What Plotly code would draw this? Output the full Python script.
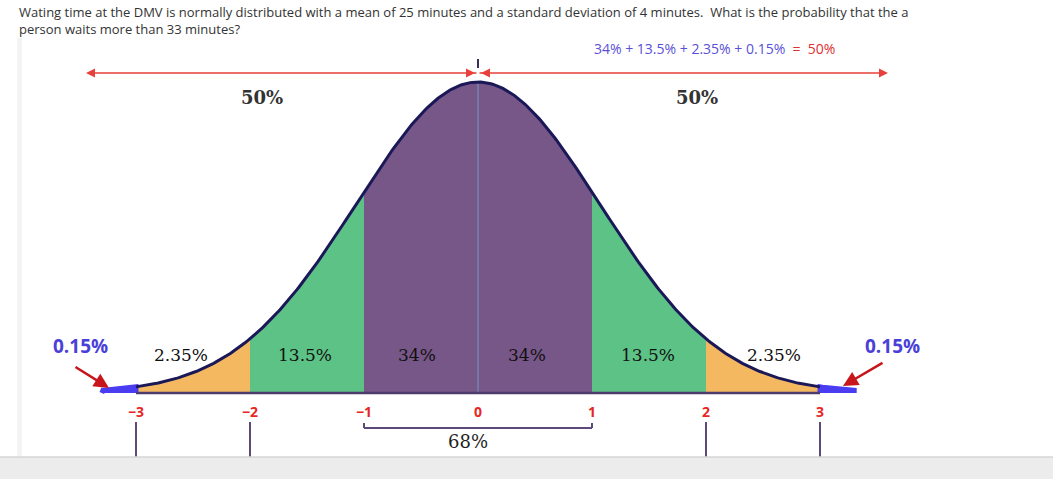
import numpy as np
import plotly.graph_objects as go

# ---------------- data ----------------
question_lines = [
    "Wating time at the DMV is normally distributed with a mean of 25 minutes and a standard deviation of 4 minutes.  What is the probability that the a",
    "person waits more than 33 minutes?",
]
mean_minutes = 25
sd_minutes = 4
sigma_ticks = [-3, -2, -1, 0, 1, 2, 3]
sigma_tick_labels = ["\u22123", "\u22122", "\u22121", "0", "1", "2", "3"]
region_bounds = [(-3, -2), (-2, -1), (-1, 0), (0, 1), (1, 2), (2, 3)]
region_labels = ["2.35%", "13.5%", "34%", "34%", "13.5%", "2.35%"]
region_colors = ["#f4b860", "#5cc286", "#775788", "#775788", "#5cc286", "#f4b860"]
tail_label = "0.15%"
half_label = "50%"
middle_label = "68%"
sum_terms = ["34%", "13.5%", "2.35%", "0.15%"]
sum_result = "50%"

# ---------------- pixel mapping helpers (layout only) ----------------
W, H = 1053, 479
X0, SIG_PX = 478.0, 114.0
Y0, PEAK_PX = 393.0, 311.0
CURVE_SPREAD = 1.07  # apparent spread of the drawn bell relative to tick spacing


def px2x(p):
    return (p - X0) / SIG_PX


def px2y(p):
    return (Y0 - p) / PEAK_PX


def bell(z):
    z = np.asarray(z, dtype=float)
    return np.exp(-0.5 * (z / CURVE_SPREAD) ** 2)


fig = go.Figure()

# colored regions
for (a, b), col in zip(region_bounds, region_colors):
    xs = np.linspace(a, b, 80)
    ys = bell(xs)
    px_ = np.concatenate([[a], xs, [b]])
    py_ = np.concatenate([[0], ys, [0]])
    fig.add_trace(go.Scatter(x=px_, y=py_, fill="toself", fillcolor=col,
                             mode="lines", line=dict(width=0, color=col),
                             hoverinfo="skip", showlegend=False))

# blue tails
for a, b in [(-3.3, -3.0), (3.0, 3.3)]:
    xs = np.linspace(a, b, 30)
    ys = bell(xs)
    px_ = np.concatenate([[a], xs, [b]])
    py_ = np.concatenate([[0], ys, [0]])
    fig.add_trace(go.Scatter(x=px_, y=py_, fill="toself", fillcolor="#4a3cf0",
                             mode="lines", line=dict(width=5, color="#4a3cf0"),
                             hoverinfo="skip", showlegend=False))

# centre line
fig.add_trace(go.Scatter(x=[0, 0], y=[0, 1], mode="lines",
                         line=dict(color="#6e9cc4", width=1),
                         hoverinfo="skip", showlegend=False))

# curve outline
xc = np.linspace(-3.0, 3.0, 400)
fig.add_trace(go.Scatter(x=xc, y=bell(xc), mode="lines",
                         line=dict(color="#1b1858", width=3),
                         hoverinfo="skip", showlegend=False))

# baseline
fig.add_trace(go.Scatter(x=[-3.0, 3.0], y=[0, 0], mode="lines",
                         line=dict(color="#4d3b6e", width=2.5),
                         hoverinfo="skip", showlegend=False))

shapes = []
# vertical guide lines below +-2, +-3
for t in sigma_ticks:
    if abs(t) >= 2:
        shapes.append(dict(type="line", x0=t, x1=t, y0=px2y(422), y1=px2y(457),
                           line=dict(color="#5b4a7a", width=2)))
# 68% bracket
yb = px2y(428)
shapes.append(dict(type="line", x0=-1, x1=1, y0=yb, y1=yb, line=dict(color="#5b4a7a", width=2)))
for t in (-1, 1):
    shapes.append(dict(type="line", x0=t, x1=t, y0=yb, y1=px2y(423), line=dict(color="#5b4a7a", width=2)))
# small tick above peak
shapes.append(dict(type="line", x0=0, x1=0, y0=px2y(59), y1=px2y(68), line=dict(color="#3b2f5a", width=2)))
# bottom gray bar
shapes.append(dict(type="rect", xref="paper", x0=-0.02, x1=1.02, y0=px2y(457), y1=px2y(485),
                   fillcolor="#ececec", line=dict(width=0), layer="above"))
shapes.append(dict(type="line", xref="paper", x0=-0.02, x1=1.02, y0=px2y(457), y1=px2y(457),
                   line=dict(color="#d6d6d6", width=1.5), layer="above"))
# faint left border strip
shapes.append(dict(type="rect", x0=px2x(17), x1=px2x(22), y0=px2y(457), y1=px2y(38),
                   fillcolor="#f4f4f4", line=dict(width=0), layer="below"))

annotations = []
# question text
annotations.append(dict(x=px2x(17), y=px2y(1), text="<br>".join(question_lines), showarrow=False,
                        xanchor="left", yanchor="top", align="left",
                        font=dict(family="Open Sans", size=13, color="#333333")))
# sum formula
sum_text = ("<span style='color:#5a50d8'>" + " + ".join(sum_terms) + "</span>"
            + "<span style='color:#e0302f'>  =  " + sum_result + "</span>")
annotations.append(dict(x=px2x(592), y=px2y(48), text=sum_text, showarrow=False,
                        xanchor="left", yanchor="middle",
                        font=dict(family="Open Sans", size=14)))
# red horizontal arrows
yr = px2y(73)
red = "#e8403a"
for head, tail in [(px2x(86), 0.0), (px2x(888), 0.0)]:
    annotations.append(dict(x=head, y=yr, ax=tail, ay=yr, axref="x", ayref="y",
                            xref="x", yref="y", text="", showarrow=True,
                            arrowhead=2, arrowsize=1.2, arrowwidth=1.5, arrowcolor=red))
for head, tail in [(px2x(475), px2x(466)), (px2x(481), px2x(490))]:
    annotations.append(dict(x=head, y=yr, ax=tail, ay=yr, axref="x", ayref="y",
                            xref="x", yref="y", text="", showarrow=True,
                            arrowhead=2, arrowsize=1.2, arrowwidth=1.5, arrowcolor=red))
# 50% labels
for xp in (262, 697):
    annotations.append(dict(x=px2x(xp), y=px2y(97), text="<b>" + half_label + "</b>", showarrow=False,
                            font=dict(family="DejaVu Serif", size=18, color="#333333")))
# region labels
label_px = [181, 305, 417, 527, 648, 774]
for xp, lab in zip(label_px, region_labels):
    annotations.append(dict(x=px2x(xp), y=px2y(355), text=lab, showarrow=False,
                            font=dict(family="DejaVu Serif", size=17, color="#111111")))
# 0.15% labels and arrows
blue = "#4a3fd8"
for xp in (80, 892):
    annotations.append(dict(x=px2x(xp), y=px2y(346), text="<b>" + tail_label + "</b>", showarrow=False,
                            font=dict(family="Open Sans", size=19, color=blue)))
for (hx, hy), (tx, ty) in [((109, 388), (74, 366)), ((843, 386), (884, 362))]:
    annotations.append(dict(x=px2x(hx), y=px2y(hy), ax=px2x(tx), ay=px2y(ty), axref="x", ayref="y",
                            xref="x", yref="y", text="", showarrow=True,
                            arrowhead=2, arrowsize=1.2, arrowwidth=2.5, arrowcolor="#c8151c"))
# sigma labels
for t, lab in zip(sigma_ticks, sigma_tick_labels):
    annotations.append(dict(x=t, y=px2y(411), text="<b>" + lab + "</b>", showarrow=False,
                            font=dict(family="Open Sans", size=14, color="#e8261f")))
# 68% label
annotations.append(dict(x=px2x(468), y=px2y(441), text=middle_label, showarrow=False,
                        font=dict(family="DejaVu Serif", size=18, color="#1e1e1e")))

fig.update_layout(
    width=W, height=H,
    margin=dict(l=0, r=0, t=0, b=0),
    paper_bgcolor="white", plot_bgcolor="white",
    xaxis=dict(range=[px2x(0), px2x(W)], visible=False, fixedrange=True),
    yaxis=dict(range=[px2y(H), px2y(0)], visible=False, fixedrange=True),
    shapes=shapes, annotations=annotations, showlegend=False,
)

fig.write_html("out.html", config={"displayModeBar": False},
               post_script="document.body.style.margin='0';document.body.style.overflow='hidden';")
